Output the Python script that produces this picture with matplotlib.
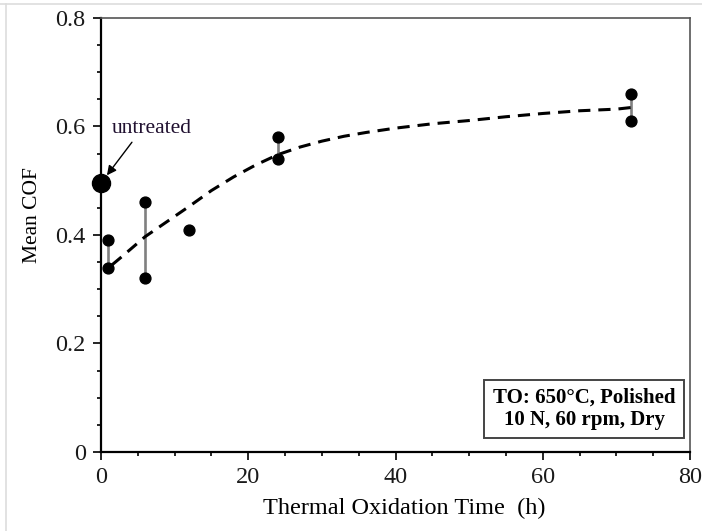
import matplotlib.pyplot as plt
from matplotlib.lines import Line2D
from matplotlib.ticker import MultipleLocator

# measured pairs of mean COF at each oxidation time
pair_times = [1, 6, 24, 72]
pair_high = [0.39, 0.46, 0.58, 0.66]
pair_low = [0.34, 0.32, 0.54, 0.61]

single_times = [12]
single_cof = [0.41]

untreated_time = 0
untreated_cof = 0.495

# dashed trend curve
trend_time = [1.5, 3, 6, 9, 12, 15, 18, 21, 24, 27, 30, 33, 36, 40, 45, 50, 55, 60, 65, 70, 72]
trend_cof = [0.345, 0.362, 0.397, 0.425, 0.453, 0.482, 0.507, 0.529, 0.548, 0.562,
             0.573, 0.582, 0.589, 0.597, 0.605, 0.611, 0.618, 0.624, 0.629, 0.632, 0.635]

plt.rcParams["font.family"] = ["Liberation Serif", "DejaVu Serif"]

fig = plt.figure(figsize=(7.02, 5.31), dpi=100)
ax = fig.add_axes([0.1439, 0.1488, 0.8391, 0.8173])

ax.vlines(pair_times, pair_low, pair_high, color="#808080", linewidth=1.9, zorder=2)
ax.plot(pair_times, pair_high, "o", color="black", markersize=7.8, zorder=3, clip_on=False)
ax.plot(pair_times, pair_low, "o", color="black", markersize=7.8, zorder=3, clip_on=False)
ax.plot(single_times, single_cof, "o", color="black", markersize=7.8, zorder=3)
ax.plot([untreated_time], [untreated_cof], "o", color="black", markersize=13,
        zorder=4, clip_on=False)

ax.plot(trend_time, trend_cof, color="black", linestyle=(0, (4, 2.6)), linewidth=2.2,
        zorder=2.5)

ax.text(1.4, 0.597, "untreated", fontsize=15.5, color="#201030", ha="left", va="center")
ax.annotate("", xy=(0.8, 0.51), xytext=(4.2, 0.571),
            arrowprops=dict(arrowstyle="-|>", color="black", lw=1.0,
                            mutation_scale=14, shrinkA=0, shrinkB=0))

ax.text(0.82, 0.099, "TO: 650\u00b0C, Polished\n10 N, 60 rpm, Dry",
        transform=ax.transAxes, ha="center", va="center", fontsize=15,
        fontweight="bold", linespacing=1.15,
        bbox=dict(boxstyle="square,pad=0.4", facecolor="white",
                  edgecolor="#444444", linewidth=1.4))

ax.set_xlim(0, 80)
ax.set_ylim(0, 0.8)
ax.xaxis.set_minor_locator(MultipleLocator(5))
ax.yaxis.set_minor_locator(MultipleLocator(0.05))
ax.set_xticks([0, 20, 40, 60, 80])
ax.set_xticklabels(["0", "20", "40", "60", "80"])
ax.set_yticks([0, 0.2, 0.4, 0.6, 0.8])
ax.set_yticklabels(["0", "0.2", "0.4", "0.6", "0.8"])

ax.tick_params(which="major", direction="out", length=6, width=1.2, labelsize=17.5,
               pad=5, top=False, right=False, labelcolor="#1a1a1a")
ax.tick_params(which="minor", direction="out", length=3, width=1.2, top=False, right=False)

for side in ["left", "bottom"]:
    ax.spines[side].set_linewidth(1.6)
for side in ["top", "right"]:
    ax.spines[side].set_linewidth(1.2)
    ax.spines[side].set_color("#555555")

ax.set_xlabel("Thermal Oxidation Time  (h)", fontsize=17.5)
ax.xaxis.set_label_coords(0.514, -0.105)
ax.set_ylabel("Mean COF", fontsize=15.5)
ax.yaxis.set_label_coords(-0.10, 0.546)

# thin frame left over from the screenshot
fig.add_artist(Line2D([0, 1], [0.992, 0.992], color="#dddddd", linewidth=1.2,
                      transform=fig.transFigure))
fig.add_artist(Line2D([0.008, 0.008], [0, 0.992], color="#dddddd", linewidth=1.2,
                      transform=fig.transFigure))

fig.savefig("out.png", dpi=100)
